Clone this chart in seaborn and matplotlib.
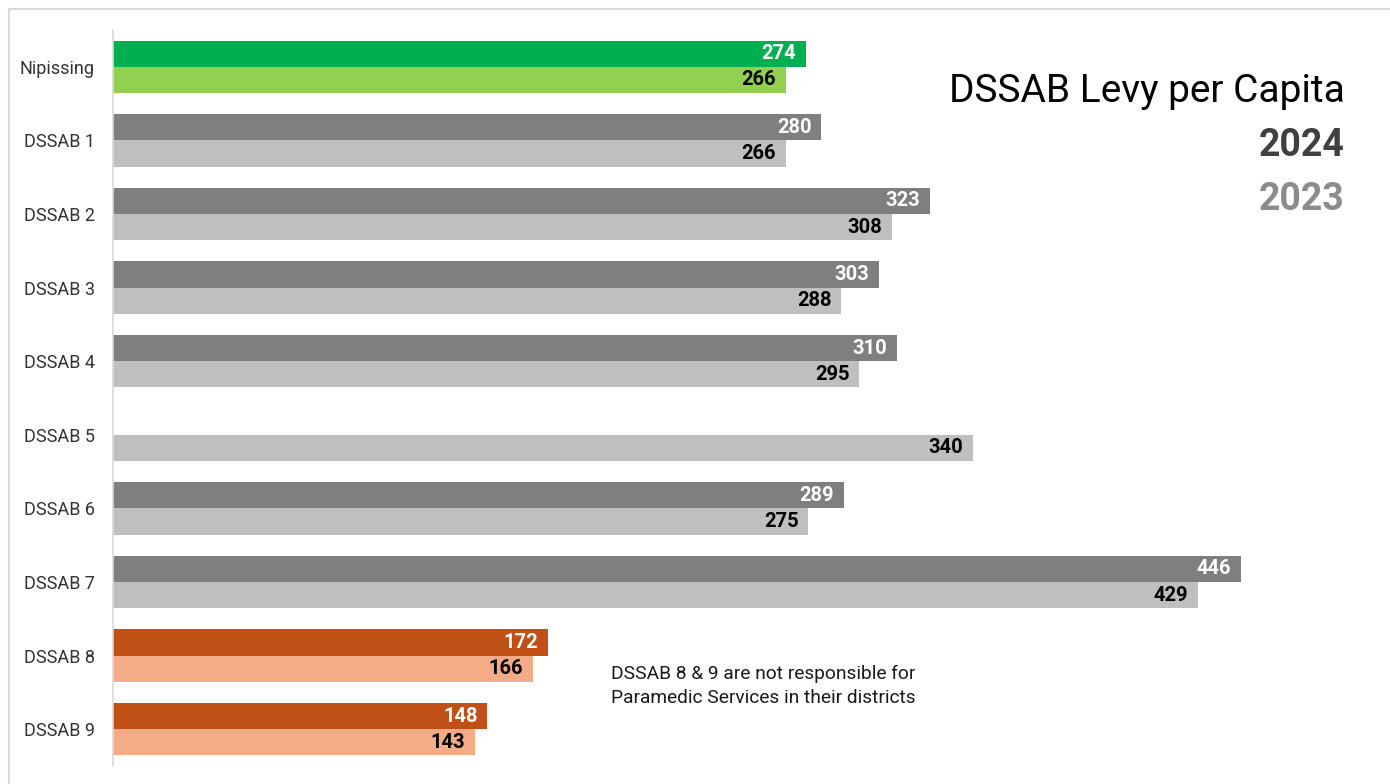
import pandas as pd
import numpy as np
import seaborn as sns
import matplotlib.pyplot as plt
from matplotlib.lines import Line2D

sns.set_theme(style="white")
plt.rcParams['font.family'] = ['Roboto', 'DejaVu Sans']

# Datos
categorias = ['Nipissing', 'DSSAB 1', 'DSSAB 2', 'DSSAB 3', 'DSSAB 4',
              'DSSAB 5', 'DSSAB 6', 'DSSAB 7', 'DSSAB 8', 'DSSAB 9']
levy_2024 = [274, 280, 323, 303, 310, np.nan, 289, 446, 172, 148]
levy_2023 = [266, 266, 308, 288, 295, 340, 275, 429, 166, 143]
anios = ['2024', '2023']

# Colores por grupo (2024, 2023)
colores_grupo = {
    'Nipissing': ('#00B050', '#92D050'),
    'DSSAB 8': ('#C05015', '#F3AC86'),
    'DSSAB 9': ('#C05015', '#F3AC86'),
}
gris = ('#7F7F7F', '#BFBFBF')

df = pd.DataFrame({
    'Region': categorias * 2,
    'Anio': [anios[0]] * len(categorias) + [anios[1]] * len(categorias),
    'Levy': levy_2024 + levy_2023,
})

fig = plt.figure(figsize=(13.9, 7.84), dpi=100)
ax = fig.add_axes([113 / 1390, 1 - 766 / 784, (1380 - 113) / 1390, (766 - 30) / 784])

sns.barplot(data=df, y='Region', x='Levy', hue='Anio', hue_order=anios,
            order=categorias, orient='h', width=0.71, ax=ax, legend=False,
            palette=list(gris))

# Recolorear y etiquetar cada barra
for i, cont in enumerate(ax.containers):
    for bar in cont:
        w = bar.get_width()
        if np.isnan(w) or w == 0:
            continue
        idx = int(round(bar.get_y() + bar.get_height() / 2))
        cat = categorias[idx]
        bar.set_facecolor(colores_grupo.get(cat, gris)[i])
        bar.set_edgecolor('none')
        ax.annotate(f'{w:.0f}', (w, bar.get_y() + bar.get_height() / 2),
                    xytext=(-7, 0), textcoords='offset points',
                    ha='right', va='center', fontsize=14.5, fontweight='bold',
                    color='white' if i == 0 else 'black')

ax.set_xlim(0, (1380 - 113) / 2.529)
ax.set_ylim(len(categorias) - 0.5, -0.5)
ax.set_xlabel('')
ax.set_ylabel('')
ax.set_xticks([])
ax.tick_params(axis='y', length=0, pad=13, labelsize=13, labelcolor='#333333')
for s in ['top', 'right', 'bottom']:
    ax.spines[s].set_visible(False)
ax.spines['left'].set_color('#D9D9D9')
ax.spines['left'].set_linewidth(1.2)

# Titulo y leyenda de texto
fig.text(1345 / 1390, 1 - 91 / 784, 'DSSAB Levy per Capita', ha='right', va='center',
         fontsize=28, color='black')
fig.text(1345 / 1390, 1 - 146 / 784, '2024', ha='right', va='center',
         fontsize=27, fontweight='bold', color='#404040')
fig.text(1345 / 1390, 1 - 200 / 784, '2023', ha='right', va='center',
         fontsize=27, fontweight='bold', color='#8C8C8C')

fig.text(611 / 1390, 1 - 686 / 784,
         'DSSAB 8 & 9 are not responsible for\nParamedic Services in their districts',
         ha='left', va='center', fontsize=13.8, color='#1a1a1a', linespacing=1.45)

# Borde del grafico
fig.add_artist(Line2D([9 / 1390, 1], [1 - 9 / 784] * 2, color='#D9D9D9', lw=1.5,
                      transform=fig.transFigure))
fig.add_artist(Line2D([9 / 1390] * 2, [0, 1 - 9 / 784], color='#D9D9D9', lw=1.5,
                      transform=fig.transFigure))

fig.savefig('out.png', dpi=100, facecolor='white')
